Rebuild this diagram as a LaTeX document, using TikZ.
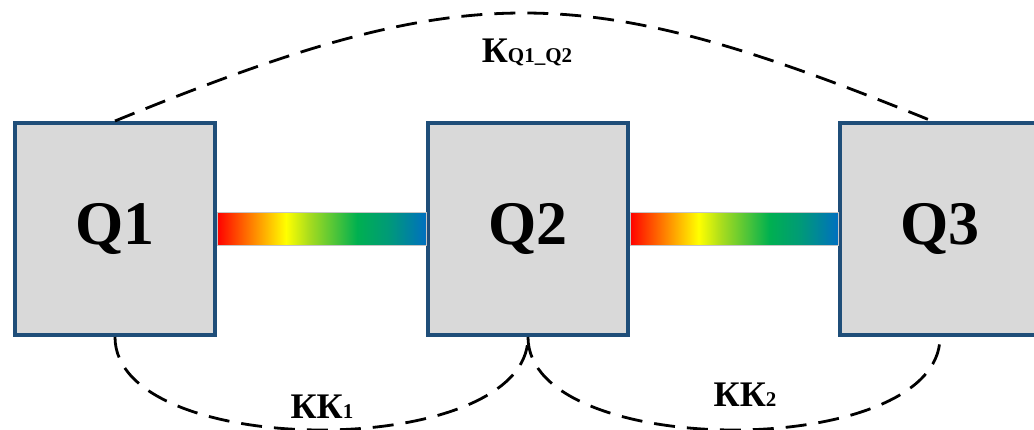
\documentclass[tikz,border=0pt]{standalone}
\usepackage{fontspec}
\setmainfont{Liberation Serif}
\usepackage{tikz}
\usetikzlibrary{positioning, calc, shadows}
\definecolor{borderBlue}{HTML}{1F4E79}
\definecolor{boxGray}{HTML}{D9D9D9}
\definecolor{barOrange}{HTML}{FF8C00}
\definecolor{barLime}{HTML}{A8DC1E}
\definecolor{barGreen}{HTML}{00B050}
\definecolor{barTeal}{HTML}{009A78}
\definecolor{barBlue}{HTML}{0070C0}
\pgfdeclarehorizontalshading{rainbowShade}{100bp}{color(0bp)=(red); color(25bp)=(red); color(34bp)=(barOrange); color(41.5bp)=(yellow); color(47bp)=(barLime); color(58.5bp)=(barGreen); color(66bp)=(barTeal); color(75bp)=(barBlue); color(100bp)=(barBlue)}
\newcommand{\subFont}{\fontsize{21}{23}\selectfont}

\begin{document}
\begin{tikzpicture}[
    x=1pt, y=-1pt,
    qubitNode/.style={draw=borderBlue, fill=boxGray, line width=4pt, minimum width=200pt, minimum height=212pt, inner sep=0pt, font=\fontsize{62}{66}\selectfont\bfseries, drop shadow={shadow xshift=1.5pt, shadow yshift=-2pt, fill=borderBlue, opacity=0.12}},
    couplerBar/.style={shading=rainbowShade, draw=gray!45, line width=0.8pt},
    kLabel/.style={font=\fontsize{36}{40}\selectfont\bfseries, inner sep=0pt},
    dashLine/.style={line width=2.8pt, dash pattern=on 21pt off 12pt}
]
\useasboundingbox (0,0) rectangle (1034,430);

\node[qubitNode] (q1) at (115,229) {Q1};
\node[qubitNode, right=209pt of q1] (q2) {Q2};
\node[qubitNode, right=208pt of q2] (q3) {Q3};

% Couplers
\path[couplerBar] ([yshift=16.5pt]q1.east) rectangle ([yshift=-16.5pt]q2.west);
\path[couplerBar] ([yshift=16.5pt]q2.east) rectangle ([yshift=-16.5pt]q3.west);

% Interactions
\draw[dashLine] (q1.north) .. controls ($(q1.north)+(355,-145)$) and ($(q3.north)+(-360,-143)$) .. ([xshift=-8pt]q3.north);
\draw[dashLine] (q1.south) .. controls ($(q1.south)+(0,124)$) and ($(q2.south)+(0,124)$) .. (q2.south);
\draw[dashLine] (q2.south) .. controls ($(q2.south)+(0,124)$) and ($(q3.south)+(0,124)$) .. (q3.south);

\node[kLabel] (kq) at (527,52) {К{\subFont Q1\_Q2}};
\node[kLabel] (kk1) at (322,407) {КК{\subFont 1}};
\node[kLabel] (kk2) at (745,395) {КК{\subFont 2}};

\end{tikzpicture}
\end{document}
